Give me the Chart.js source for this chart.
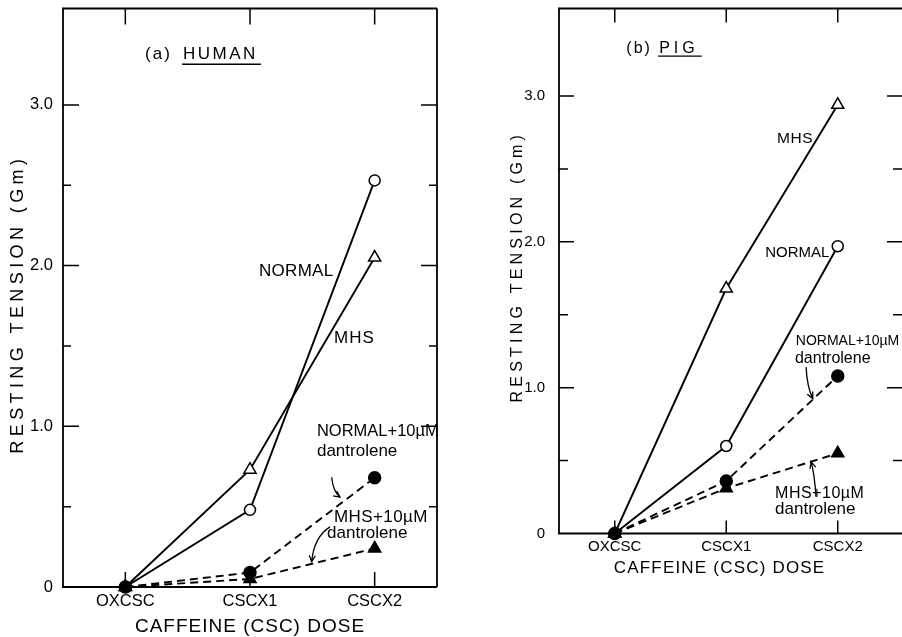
<!DOCTYPE html>
<html>
<head>
<meta charset="utf-8">
<title>Resting tension vs caffeine dose</title>
<script src="https://cdn.jsdelivr.net/npm/chart.js@4.4.1/dist/chart.umd.min.js"></script>
<style>
  html, body { margin: 0; padding: 0; background: #fff; }
  #wrap { position: relative; width: 902px; height: 637px; overflow: hidden; }
  #human { position: absolute; left: 0; top: 0; }
  #pig { position: absolute; left: 460px; top: 0; }
</style>
</head>
<body>
<div id="wrap">
  <canvas id="human" width="460" height="637"></canvas>
  <canvas id="pig" width="442" height="637"></canvas>
</div>
<script>
const doses = ['OXCSC', 'CSCX1', 'CSCX2'];
const tensionTicks = [0, 1, 2, 3];
const tensionLabels = ['0', '1.0', '2.0', '3.0'];
const halfTicks = [0.5, 1.5, 2.5];

// resting tension (Gm), human muscle
const humanNormal = [0, 0.48, 2.53];
const humanMhs = [0, 0.73, 2.05];
const humanNormalDantrolene = [0, 0.09, 0.68];
const humanMhsDantrolene = [0, 0.05, 0.24];

// resting tension (Gm), pig muscle
const pigNormal = [0, 0.60, 1.97];
const pigMhs = [0, 1.68, 2.94];
const pigNormalDantrolene = [0, 0.36, 1.08];
const pigMhsDantrolene = [0, 0.31, 0.55];

const FONT = '"Liberation Sans", Arial, sans-serif';
const INK = '#000';

// marker / line styles
const solid = { borderDash: [] };
const dashed = { borderDash: [8, 5] };
const openCircle = { pointStyle: 'circle', pointRadius: 5.5, pointBackgroundColor: '#fff' };
const openTriangle = { pointStyle: 'triangle', pointRadius: 7, pointBackgroundColor: '#fff' };
const dotCircle = { pointStyle: 'circle', pointRadius: 6, pointBackgroundColor: INK };
const dotTriangle = { pointStyle: 'triangle', pointRadius: 7, pointBackgroundColor: INK };

function series(label, values, line, marker) {
  return Object.assign({
    label: label,
    data: values,
    borderColor: INK,
    borderWidth: 1.9,
    pointBorderColor: INK,
    pointBorderWidth: 1.5,
    tension: 0,
    fill: false,
    clip: false
  }, line, marker);
}

// box with inward tick marks
function framePlugin(cfg) {
  return {
    id: 'frame',
    beforeDatasetsDraw(chart) {
      const { ctx, chartArea: a, scales: { x, y } } = chart;
      const right = cfg.openRight ? chart.width : a.right;
      ctx.save();
      ctx.strokeStyle = INK;
      ctx.lineWidth = 1.8;
      ctx.beginPath();
      ctx.moveTo(right, a.top);
      ctx.lineTo(a.left, a.top);
      ctx.lineTo(a.left, a.bottom);
      ctx.lineTo(right, a.bottom);
      if (!cfg.openRight) {
        ctx.moveTo(a.right, a.top);
        ctx.lineTo(a.right, a.bottom);
      }
      ctx.stroke();

      ctx.lineWidth = 1.5;
      ctx.beginPath();
      const side = (v, len) => {
        const py = y.getPixelForValue(v);
        ctx.moveTo(a.left, py); ctx.lineTo(a.left + len, py);
        ctx.moveTo(right, py); ctx.lineTo(right - len, py);
      };
      tensionTicks.filter(v => v > 0).forEach(v => side(v, cfg.major));
      halfTicks.forEach(v => side(v, cfg.minor));
      cfg.topTicks.forEach(i => {
        const px = x.getPixelForValue(i);
        ctx.moveTo(px, a.top); ctx.lineTo(px, a.top + cfg.topLen);
      });
      cfg.bottomTicks.forEach(i => {
        const px = x.getPixelForValue(i);
        ctx.moveTo(px, a.bottom); ctx.lineTo(px, a.bottom - cfg.bottomLen);
      });
      ctx.stroke();
      ctx.restore();
    }
  };
}

// curve labels, pointer arrows and axis titles
function notesPlugin(cfg) {
  return {
    id: 'notes',
    afterDatasetsDraw(chart) {
      const { ctx, scales: { x, y } } = chart;
      ctx.save();
      ctx.fillStyle = INK;
      ctx.strokeStyle = INK;
      ctx.textBaseline = 'middle';
      ctx.textAlign = 'left';

      cfg.texts.forEach(t => {
        ctx.font = t.size + 'px ' + FONT;
        ctx.letterSpacing = (t.spacing || 0) + 'px';
        const px = x.getPixelForValue(t.x);
        const py = y.getPixelForValue(t.y);
        ctx.fillText(t.text, px, py);
        if (t.underline) {
          const w = ctx.measureText(t.text).width;
          ctx.lineWidth = 1.4;
          ctx.beginPath();
          ctx.moveTo(px - 1, py + t.underline);
          ctx.lineTo(px + w + 3, py + t.underline);
          ctx.stroke();
        }
      });

      ctx.lineWidth = 1.3;
      cfg.arrows.forEach(ar => {
        const p0 = [x.getPixelForValue(ar.from[0]), y.getPixelForValue(ar.from[1])];
        const pc = [x.getPixelForValue(ar.ctrl[0]), y.getPixelForValue(ar.ctrl[1])];
        const p1 = [x.getPixelForValue(ar.to[0]), y.getPixelForValue(ar.to[1])];
        ctx.beginPath();
        ctx.moveTo(p0[0], p0[1]);
        ctx.quadraticCurveTo(pc[0], pc[1], p1[0], p1[1]);
        const ang = Math.atan2(p1[1] - pc[1], p1[0] - pc[0]);
        const head = 7;
        ctx.moveTo(p1[0] - head * Math.cos(ang - 0.45), p1[1] - head * Math.sin(ang - 0.45));
        ctx.lineTo(p1[0], p1[1]);
        ctx.lineTo(p1[0] - head * Math.cos(ang + 0.45), p1[1] - head * Math.sin(ang + 0.45));
        ctx.stroke();
      });

      // axis titles
      const xt = cfg.xTitle;
      ctx.font = xt.size + 'px ' + FONT;
      ctx.letterSpacing = xt.spacing + 'px';
      ctx.textAlign = 'center';
      ctx.fillText(xt.text, x.getPixelForValue(xt.x), xt.py);

      const yt = cfg.yTitle;
      ctx.font = yt.size + 'px ' + FONT;
      ctx.letterSpacing = yt.spacing + 'px';
      ctx.translate(yt.px, y.getPixelForValue(yt.y));
      ctx.rotate(-Math.PI / 2);
      ctx.fillText(yt.text, 0, 0);
      ctx.letterSpacing = '0px';
      ctx.restore();
    }
  };
}

function makeChart(id, datasets, box, frameCfg, notesCfg) {
  return new Chart(document.getElementById(id), {
    type: 'line',
    data: { labels: doses, datasets: datasets },
    options: {
      responsive: false,
      animation: false,
      devicePixelRatio: 1,
      events: [],
      layout: { padding: { top: box.top, right: box.right, left: 0, bottom: 0 } },
      plugins: { legend: { display: false }, tooltip: { enabled: false } },
      scales: {
        x: {
          type: 'category',
          offset: true,
          grid: { display: false, drawTicks: false },
          border: { display: false },
          ticks: { color: INK, padding: box.xPad, maxRotation: 0, font: { family: FONT, size: box.tickSize } },
          afterFit: s => { s.height = box.xHeight; s.paddingLeft = 0; s.paddingRight = 0; }
        },
        y: {
          min: 0,
          max: 3.6,
          grid: { display: false, drawTicks: false },
          border: { display: false },
          afterBuildTicks: s => { s.ticks = tensionTicks.map(v => ({ value: v })); },
          ticks: {
            color: INK,
            padding: box.yPad,
            font: { family: FONT, size: box.tickSize },
            callback: v => tensionLabels[tensionTicks.indexOf(v)]
          },
          afterFit: s => { s.width = box.yWidth; s.paddingTop = 0; s.paddingBottom = 0; }
        }
      }
    },
    plugins: [framePlugin(frameCfg), notesPlugin(notesCfg)]
  });
}

// filled (dantrolene) series first so their markers sit on top at the origin
makeChart('human', [
  series('NORMAL+10µM dantrolene', humanNormalDantrolene, dashed, dotCircle),
  series('MHS+10µM dantrolene', humanMhsDantrolene, dashed, dotTriangle),
  series('NORMAL', humanNormal, solid, openCircle),
  series('MHS', humanMhs, solid, openTriangle)
], { top: 6, right: 23, yWidth: 63, xHeight: 50, xPad: 5, yPad: 10, tickSize: 16.5 },
{ openRight: false, major: 16, minor: 8, topTicks: [0, 1, 2], topLen: 16, bottomTicks: [0, 1, 2], bottomLen: 15 },
{
  texts: [
    { text: '(a)', x: 0.158, y: 3.315, size: 17, spacing: 2 },
    { text: 'HUMAN', x: 0.463, y: 3.315, size: 17, spacing: 2.5, underline: 10 },
    { text: 'NORMAL', x: 1.072, y: 1.964, size: 17, spacing: 0.3 },
    { text: 'MHS', x: 1.674, y: 1.549, size: 17, spacing: 1 },
    { text: 'NORMAL+10µM', x: 1.537, y: 0.967, size: 16.5 },
    { text: 'dantrolene', x: 1.537, y: 0.843, size: 17 },
    { text: 'MHS+10µM', x: 1.674, y: 0.434, size: 17, spacing: 0.4 },
    { text: 'dantrolene', x: 1.618, y: 0.335, size: 17 }
  ],
  arrows: [
    { from: [1.655, 0.683], ctrl: [1.668, 0.590], to: [1.722, 0.559] },
    { from: [1.642, 0.374], ctrl: [1.513, 0.312], to: [1.495, 0.157] }
  ],
  xTitle: { text: 'CAFFEINE (CSC) DOSE', x: 1.0, py: 627, size: 19, spacing: 1 },
  yTitle: { text: 'RESTING TENSION (Gm)', px: 18, y: 1.76, size: 18, spacing: 4.4 }
});

makeChart('pig', [
  series('NORMAL+10µM dantrolene', pigNormalDantrolene, dashed, dotCircle),
  series('MHS+10µM dantrolene', pigMhsDantrolene, dashed, dotTriangle),
  series('MHS', pigMhs, solid, openTriangle),
  series('NORMAL', pigNormal, solid, openCircle)
], { top: 7.5, right: 5.5, yWidth: 99, xHeight: 103.5, xPad: 4.5, yPad: 14, tickSize: 15 },
{ openRight: true, major: 15, minor: 9, topTicks: [0, 1, 2], topLen: 14, bottomTicks: [0, 1, 2], bottomLen: 13 },
{
  texts: [
    { text: '(b)', x: 0.104, y: 3.328, size: 16, spacing: 2 },
    { text: 'PIG', x: 0.398, y: 3.328, size: 16, spacing: 4, underline: 8 },
    { text: 'MHS', x: 1.456, y: 2.705, size: 15.5, spacing: 0.5 },
    { text: 'NORMAL', x: 1.349, y: 1.925, size: 15 },
    { text: 'NORMAL+10µM', x: 1.624, y: 1.317, size: 14 },
    { text: 'dantrolene', x: 1.616, y: 1.200, size: 16 },
    { text: 'MHS+10µM', x: 1.438, y: 0.277, size: 16, spacing: 0.5 },
    { text: 'dantrolene', x: 1.438, y: 0.168, size: 17 }
  ],
  arrows: [
    { from: [1.716, 1.141], ctrl: [1.725, 1.004], to: [1.776, 0.925] },
    { from: [1.805, 0.252], ctrl: [1.791, 0.412], to: [1.761, 0.491] }
  ],
  xTitle: { text: 'CAFFEINE (CSC) DOSE', x: 0.94, py: 568, size: 17, spacing: 1.2 },
  yTitle: { text: 'RESTING TENSION (Gm)', px: 58, y: 1.83, size: 16, spacing: 4.2 }
});
</script>
</body>
</html>
